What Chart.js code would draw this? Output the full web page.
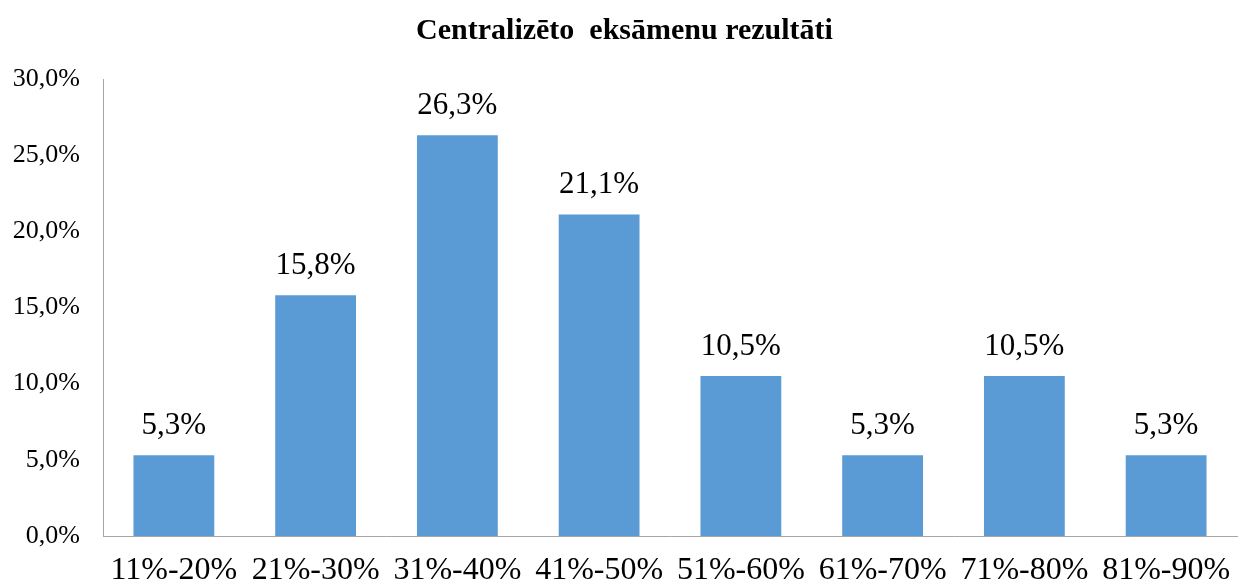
<!DOCTYPE html>
<html>
<head>
<meta charset="utf-8">
<script src="https://cdn.jsdelivr.net/npm/chart.js@4"></script>
<style>
html,body{margin:0;padding:0;background:#fff;}
#wrap{width:1245px;height:587px;}
</style>
</head>
<body>
<div id="wrap"><canvas id="c" width="1245" height="587"></canvas></div>
<script>
const categories = ["11%-20%","21%-30%","31%-40%","41%-50%","51%-60%","61%-70%","71%-80%","81%-90%"];
const values = [5.3, 15.8, 26.3, 21.1, 10.5, 5.3, 10.5, 5.3];
const yTicks = [0, 5, 10, 15, 20, 25, 30];
const title = "Centralizēto  eksāmenu rezultāti";

const fmt = (v, d) => v.toFixed(d).replace('.', ',') + '%';
const SERIF = '"Liberation Serif", "Times New Roman", serif';

const labelPlugin = {
  id: 'barLabels',
  afterDatasetsDraw(chart) {
    const ctx = chart.ctx;
    const meta = chart.getDatasetMeta(0);
    ctx.save();
    ctx.font = '31px ' + SERIF;
    ctx.fillStyle = '#000';
    ctx.textAlign = 'center';
    ctx.textBaseline = 'bottom';
    meta.data.forEach((bar, i) => {
      ctx.fillText(fmt(values[i], 1), bar.x, bar.y - 14);
    });
    ctx.restore();
  }
};

new Chart(document.getElementById('c'), {
  type: 'bar',
  data: {
    labels: categories,
    datasets: [{
      data: values,
      backgroundColor: '#5b9bd5',
      borderWidth: 0,
      barPercentage: 0.57,
      categoryPercentage: 1.0
    }]
  },
  options: {
    responsive: false,
    animation: false,
    devicePixelRatio: 1,
    layout: { padding: { left: 12, right: 8, top: 0, bottom: 0 } },
    plugins: {
      legend: { display: false },
      tooltip: { enabled: false },
      title: {
        display: true,
        text: title,
        color: '#000',
        font: { family: SERIF, size: 30, weight: 'bold', lineHeight: 1.2 },
        padding: { top: 13, bottom: 30 }
      }
    },
    scales: {
      x: {
        grid: { display: false, drawTicks: false },
        border: { color: '#a6a6a6', width: 1 },
        afterFit(scale) { scale.height = 51; scale.paddingLeft = 0; scale.paddingRight = 0; },
        ticks: {
          color: '#000',
          padding: 17,
          maxRotation: 0,
          autoSkip: false,
          font: { family: SERIF, size: 32, lineHeight: 1.1 }
        }
      },
      y: {
        min: 0,
        max: 30,
        afterBuildTicks(scale) { scale.ticks = yTicks.map(v => ({ value: v })); },
        afterFit(scale) { scale.width = 91; },
        grid: { display: false, drawTicks: false },
        border: { color: '#a6a6a6', width: 1 },
        ticks: {
          color: '#000',
          padding: 23,
          callback: (v) => fmt(v, 1),
          font: { family: SERIF, size: 26 }
        }
      }
    }
  },
  plugins: [labelPlugin]
});
</script>
</body>
</html>
